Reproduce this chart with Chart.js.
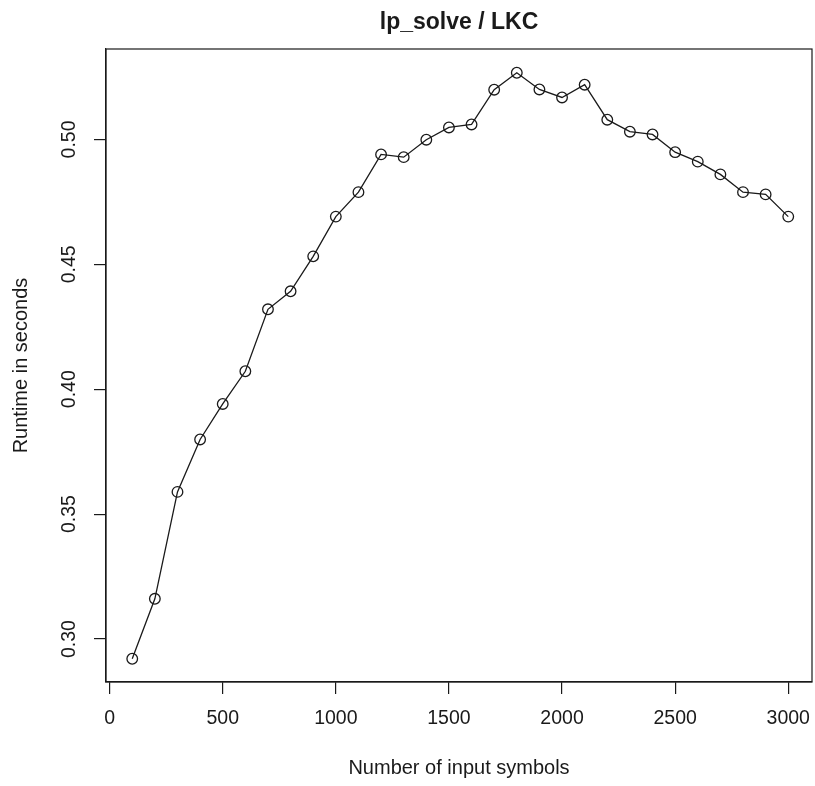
<!DOCTYPE html>
<html lang="en">
<head>
    <meta charset="UTF-8" />
    <title>lp_solve / LKC</title>
    <script src="https://cdn.jsdelivr.net/npm/chart.js"></script>
    <style>
        body { margin: 0; background: #fff; }
        canvas { display: block; }
    </style>
</head>
<body>
    <canvas id="runtimeChart" width="815" height="786"></canvas>

    <script>
        // number of input symbols
        const symbols = [100, 200, 300, 400, 500, 600, 700, 800, 900, 1000,
            1100, 1200, 1300, 1400, 1500, 1600, 1700, 1800, 1900, 2000,
            2100, 2200, 2300, 2400, 2500, 2600, 2700, 2800, 2900, 3000];

        // runtime in seconds
        const runtime = [0.2921, 0.3161, 0.3589, 0.3799, 0.3941, 0.4072, 0.4320, 0.4392, 0.4532, 0.4691,
            0.4789, 0.4940, 0.4929, 0.4999, 0.5048, 0.5060, 0.5199, 0.5267, 0.5200, 0.5168,
            0.5219, 0.5079, 0.5031, 0.5020, 0.4949, 0.4911, 0.4860, 0.4789, 0.4780, 0.4691];

        const xTicks = [0, 500, 1000, 1500, 2000, 2500, 3000];
        const yTicks = [0.30, 0.35, 0.40, 0.45, 0.50];

        const ink = '#1a1a1a';
        const font = '"Liberation Sans", Arial, Helvetica, sans-serif';

        // R style frame, main title and rotated y tick labels
        const rPlot = {
            id: 'rPlot',
            afterDraw(chart) {
                const { ctx, chartArea: a } = chart;
                const y = chart.scales.y;
                ctx.save();
                ctx.strokeStyle = ink;
                ctx.lineWidth = 1.2;
                ctx.strokeRect(a.left, a.top, a.right - a.left, a.bottom - a.top);

                ctx.fillStyle = ink;
                ctx.font = 'bold 23px ' + font;
                ctx.textAlign = 'center';
                ctx.textBaseline = 'alphabetic';
                ctx.fillText('lp_solve / LKC', (a.left + a.right) / 2, 29);

                ctx.font = '19.5px ' + font;
                ctx.textBaseline = 'middle';
                y.ticks.forEach(t => {
                    const py = y.getPixelForValue(t.value);
                    ctx.save();
                    ctx.translate(69, py);
                    ctx.rotate(-Math.PI / 2);
                    ctx.fillText(t.value.toFixed(2), 0, 1);
                    ctx.restore();
                });
                ctx.restore();
            }
        };

        new Chart(document.getElementById('runtimeChart'), {
            type: 'line',
            data: {
                datasets: [{
                    label: 'lp_solve / LKC',
                    data: symbols.map((s, i) => ({ x: s, y: runtime[i] })),
                    borderColor: ink,
                    borderWidth: 1.3,
                    backgroundColor: 'rgba(0,0,0,0)',
                    pointRadius: 5.3,
                    pointBorderWidth: 1.3,
                    pointBorderColor: ink,
                    pointBackgroundColor: 'rgba(0,0,0,0)',
                    tension: 0,
                    fill: false
                }]
            },
            options: {
                responsive: false,
                animation: false,
                layout: { autoPadding: false, padding: { top: 49, right: 3, left: 0, bottom: 0 } },
                plugins: {
                    legend: { display: false },
                    title: { display: false },
                    tooltip: { enabled: false }
                },
                scales: {
                    x: {
                        type: 'linear',
                        min: -16,
                        max: 3105,
                        afterBuildTicks: s => { s.ticks = xTicks.map(v => ({ value: v })); },
                        afterFit: s => { s.height = 104; s.paddingLeft = 0; s.paddingRight = 0; },
                        grid: { drawOnChartArea: false, tickLength: 12, color: ink, lineWidth: 1.2 },
                        border: { display: true, color: ink, width: 1.2 },
                        ticks: {
                            color: ink,
                            padding: 13,
                            maxRotation: 0,
                            autoSkip: false,
                            font: { family: font, size: 19.5 },
                            callback: v => String(v)
                        },
                        title: {
                            display: true,
                            text: 'Number of input symbols',
                            color: ink,
                            font: { family: font, size: 20 },
                            padding: { top: 0, bottom: 6 }
                        }
                    },
                    y: {
                        min: 0.2828,
                        max: 0.5362,
                        afterBuildTicks: s => { s.ticks = yTicks.map(v => ({ value: v })); },
                        afterFit: s => { s.width = 106; s.paddingTop = 0; s.paddingBottom = 0; },
                        grid: { drawOnChartArea: false, tickLength: 12, color: ink, lineWidth: 1.2 },
                        border: { display: true, color: ink, width: 1.2 },
                        ticks: {
                            color: 'rgba(0,0,0,0)',
                            font: { family: font, size: 19.5 },
                            callback: v => v.toFixed(2)
                        },
                        title: {
                            display: true,
                            text: 'Runtime in seconds',
                            color: ink,
                            font: { family: font, size: 20 },
                            padding: { top: 9, bottom: 0 }
                        }
                    }
                }
            },
            plugins: [rPlot]
        });
    </script>
</body>
</html>
